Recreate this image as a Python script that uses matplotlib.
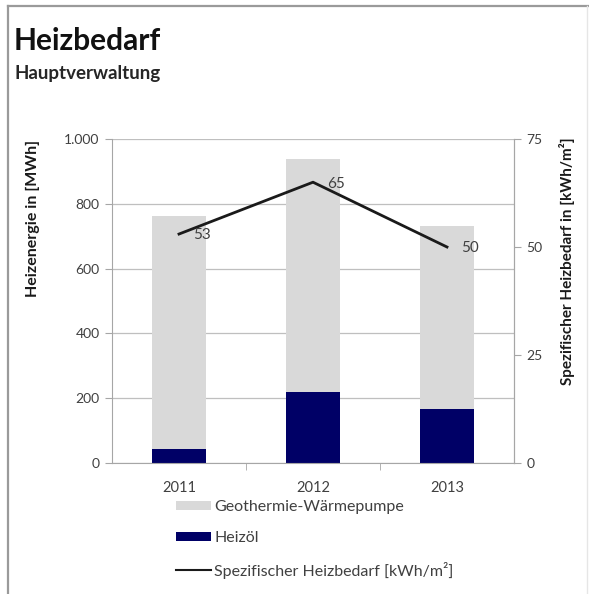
import matplotlib
matplotlib.use("Agg")
import matplotlib.pyplot as plt
from matplotlib.patches import Patch
from matplotlib.lines import Line2D
from matplotlib.ticker import FuncFormatter

plt.rcParams['font.family'] = ['Lato', 'DejaVu Sans']

years = ["2011", "2012", "2013"]
heizoel = [43, 219, 167]
geothermie = [719, 719, 564]
spez_bedarf = [53, 65, 50]

gray = "#d9d9d9"
navy = "#000066"
text_col = "#404040"
axis_col = "#a6a6a6"

W, H = 589, 594
fig = plt.figure(figsize=(W / 100, H / 100), dpi=100)

# frame around the chart sheet
fig.add_artist(Line2D([8 / W, 8 / W], [0, 1 - 6 / H], transform=fig.transFigure,
                      color="#9a9a9a", linewidth=1.6))
fig.add_artist(Line2D([8 / W, 588 / W], [1 - 6 / H, 1 - 6 / H], transform=fig.transFigure,
                      color="#9a9a9a", linewidth=1.6))
fig.add_artist(Line2D([587 / W, 587 / W], [0, 1 - 6 / H], transform=fig.transFigure,
                      color="#e6e6e6", linewidth=1.0))

ax = fig.add_axes([112 / W, 1 - 463 / H, 402 / W, 324 / H])
x = list(range(len(years)))
ax.bar(x, heizoel, width=0.41, color=navy, zorder=2, label="Heizöl")
ax.bar(x, geothermie, width=0.41, bottom=heizoel, color=gray, zorder=2,
       label="Geothermie-Wärmepumpe")
ax.set_xlim(-0.5, 2.5)
ax.set_ylim(0, 1000)
ax.set_yticks(range(0, 1001, 200))
ax.yaxis.set_major_formatter(FuncFormatter(lambda v, p: f"{int(v):,}".replace(",", ".")))
ax.grid(axis="y", color="#bfbfbf", linewidth=0.9, zorder=0)
ax.set_axisbelow(True)
ax.set_xticks(x)
ax.set_xticklabels(years)
ax.set_xticks([0.5, 1.5], minor=True)
ax.tick_params(axis="x", which="major", length=0, pad=13, labelsize=10.5, labelcolor=text_col)
ax.tick_params(axis="x", which="minor", length=5, color=axis_col)
ax.tick_params(axis="y", length=5, color=axis_col, labelsize=10, labelcolor=text_col, pad=4)
ax.spines["top"].set_visible(False)
for s in ["left", "right", "bottom"]:
    ax.spines[s].set_color(axis_col)

ax2 = ax.twinx()
ax2.plot(x, spez_bedarf, color="#1a1a1a", linewidth=2, zorder=3)
ax2.set_ylim(0, 75)
ax2.set_yticks([0, 25, 50, 75])
ax2.tick_params(axis="y", length=5, color=axis_col, labelsize=10, labelcolor=text_col, pad=4)
for s in ["top", "left", "bottom"]:
    ax2.spines[s].set_visible(False)
ax2.spines["right"].set_color(axis_col)
for xi, v in zip(x, spez_bedarf):
    ax2.annotate(f"{v}", (xi, v), xytext=(10, -1), textcoords="offset points",
                 ha="left", va="center", fontsize=11, color=text_col)

# axis titles
fig.text(33 / W, 1 - 218 / H, "Heizenergie in [MWh]", rotation=90, fontsize=11.5,
         fontweight="bold", color="#1a1a1a", ha="center", va="center")
fig.text(567 / W, 1 - 261 / H, "Spezifischer Heizbedarf in [kWh/m²]", rotation=90,
         fontsize=11, fontweight="bold", color="#1a1a1a", ha="center", va="center")

fig.text(14 / W, 1 - 41 / H, "Heizbedarf", fontsize=21.5, fontweight="bold",
         color="#111111", va="center", ha="left")
fig.text(14 / W, 1 - 73 / H, "Hauptverwaltung", fontsize=13.5, fontweight="bold",
         color="#262626", va="center", ha="left")

handles = [Patch(facecolor=gray, edgecolor="none"),
           Patch(facecolor=navy, edgecolor="none"),
           Line2D([0], [0], color="#1a1a1a", linewidth=1.5)]
labels = ["Geothermie-Wärmepumpe", "Heizöl", "Spezifischer Heizbedarf [kWh/m²]"]
fig.legend(handles, labels, loc="upper left", bbox_to_anchor=(176 / W, 1 - 500 / H),
           frameon=False, fontsize=11.5, labelcolor=text_col, handlelength=2.2,
           handleheight=0.5, handletextpad=0.2, labelspacing=1.05, borderaxespad=0,
           borderpad=0)

fig.savefig("out.png", dpi=100)
